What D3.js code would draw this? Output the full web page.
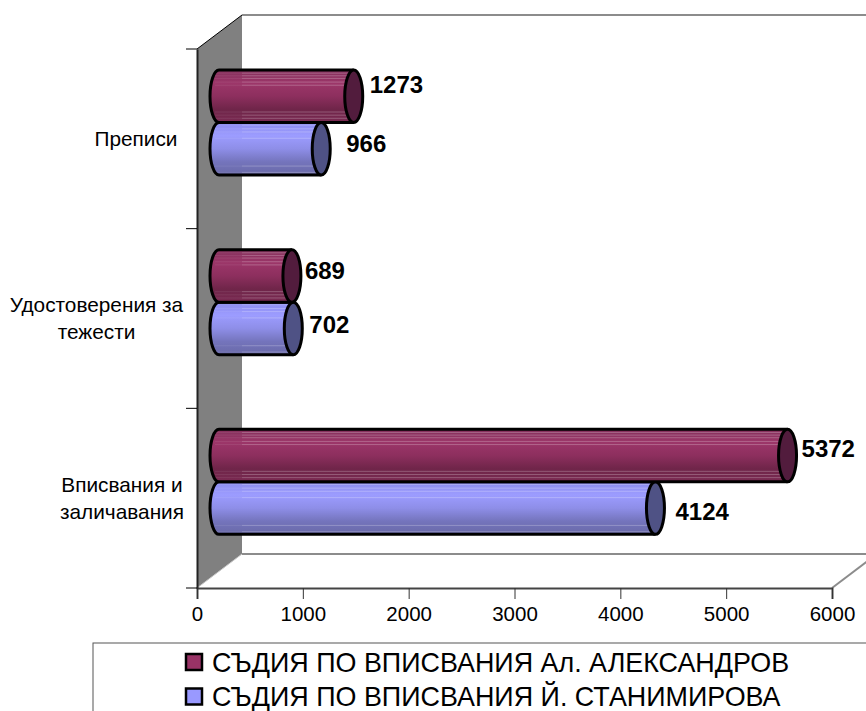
<!DOCTYPE html>
<html>
<head>
<meta charset="utf-8">
<script src="https://cdn.jsdelivr.net/npm/d3@7"></script>
<style>
  html, body { margin: 0; padding: 0; background: #fff; overflow: hidden; }
  text { font-family: "Liberation Sans", Arial, sans-serif; fill: #000; }
</style>
</head>
<body>
<svg id="chart" width="866" height="711"></svg>
<script>
// data
const categories = ["Преписи", "Удостоверения за тежести", "Вписвания и заличавания"];
const categoryLines = [["Преписи"], ["Удостоверения за", "тежести"], ["Вписвания и", "заличавания"]];
const seriesNames = ["СЪДИЯ ПО ВПИСВАНИЯ Ал. АЛЕКСАНДРОВ", "СЪДИЯ ПО ВПИСВАНИЯ Й. СТАНИМИРОВА"];
const aleksandrov = [1273, 689, 5372];
const stanimirova = [966, 702, 4124];
const xTicks = [0, 1000, 2000, 3000, 4000, 5000, 6000];

const svg = d3.select("#chart");
const defs = svg.append("defs");

const x = d3.scaleLinear().domain([0, 6000]).range([197, 832]);
const y = d3.scaleBand().domain(categories).range([49, 588]);
const inner = d3.scaleBand().domain(seriesNames).range([21, 126]);

const depthX = 45, depthY = 34;
const barShift = 22;   // bars sit this far in from the front edge
const rx = 9;

const colors = [
  { base: "#993366", cap: "#521c3d", stops: ["#84305c", "#9c3669", "#8d2f5e", "#6f2549", "#7a2a52"],
    stripes: [0.06, 0.11, 0.16, 0.23, 0.29, 0.8, 0.86, 0.92] },
  { base: "#9999ff", cap: "#4f5285", stops: ["#8c8cee", "#9c9cff", "#8e8ee8", "#7474bc", "#6a6aa8"],
    stripes: [0.05, 0.12, 0.18, 0.3, 0.83, 0.95] }
];

colors.forEach((c, i) => {
  const g = defs.append("linearGradient").attr("id", "grad" + i)
    .attr("x1", 0).attr("y1", 0).attr("x2", 0).attr("y2", 1);
  c.stops.forEach((s, k) => g.append("stop").attr("offset", k / (c.stops.length - 1)).attr("stop-color", s));
});

const yTop0 = y.range()[0], yBottom = y.range()[1];
const x0 = x(0), xEnd = x(6000);

// walls
svg.append("polygon")
  .attr("points", [[x0, yTop0], [x0 + depthX, yTop0 - depthY], [x0 + depthX, yBottom - depthY], [x0, yBottom]].join(" "))
  .attr("fill", "#808080");
svg.append("line").attr("x1", x0).attr("y1", yTop0).attr("x2", x0 + depthX).attr("y2", yTop0 - depthY)
  .attr("stroke", "#000").attr("stroke-width", 1);
svg.append("line").attr("x1", x0 + depthX).attr("y1", yTop0 - depthY).attr("x2", 866).attr("y2", yTop0 - depthY)
  .attr("stroke", "#8c8c8c").attr("stroke-width", 2);
svg.append("line").attr("x1", x0 + depthX).attr("y1", yBottom - depthY).attr("x2", 866).attr("y2", yBottom - depthY)
  .attr("stroke", "#8c8c8c").attr("stroke-width", 2);
svg.append("line").attr("x1", x0).attr("y1", yBottom).attr("x2", x0 + depthX).attr("y2", yBottom - depthY)
  .attr("stroke", "#c8c8c8").attr("stroke-width", 1);
svg.append("line").attr("x1", xEnd).attr("y1", yBottom).attr("x2", xEnd + depthX).attr("y2", yBottom - depthY)
  .attr("stroke", "#8c8c8c").attr("stroke-width", 2);

// bars, drawn lower series first so the upper one sits on top
function drawBar(values, s) {
  const name = seriesNames[s];
  const c = colors[s];
  values.forEach((v, i) => {
    const cat = categories[i];
    const yTop = y(cat) + inner(name);
    const h = inner.bandwidth();
    const yBot = yTop + h;
    const ry = h / 2;
    const xa = x0 + barShift;
    const xb = xa + (x(v) - x0);
    const g = svg.append("g").attr("class", "bar");
    g.append("path")
      .attr("d", `M${xa},${yTop} L${xb},${yTop} L${xb},${yBot} L${xa},${yBot} A${rx},${ry} 0 0 1 ${xa},${yTop} Z`)
      .attr("fill", `url(#grad${s})`);
    // the stripes are fainter where the bar passes in front of the wall
    c.stripes.forEach(f => {
      g.append("line")
        .attr("x1", xa - 4).attr("x2", x0 + depthX)
        .attr("y1", yTop + h * f).attr("y2", yTop + h * f)
        .attr("stroke", "#fff").attr("stroke-opacity", 0.08).attr("stroke-width", 1);
      g.append("line")
        .attr("x1", x0 + depthX).attr("x2", xb - 2)
        .attr("y1", yTop + h * f).attr("y2", yTop + h * f)
        .attr("stroke", "#fff").attr("stroke-opacity", 0.24).attr("stroke-width", 1);
    });
    g.append("path")
      .attr("d", `M${xb},${yTop} L${xa},${yTop} A${rx},${ry} 0 0 0 ${xa},${yBot} L${xb},${yBot}`)
      .attr("fill", "none").attr("stroke", "#000").attr("stroke-width", 3);
    g.append("ellipse")
      .attr("cx", xb).attr("cy", yTop + ry).attr("rx", rx).attr("ry", ry)
      .attr("fill", c.cap).attr("stroke", "#000").attr("stroke-width", 3);
  });
}
drawBar(stanimirova, 1);
drawBar(aleksandrov, 0);

// value labels, each nudged off its bar end
const nudges = [
  [[16, -12], [13, -6], [14, -7]],
  [[25, -5], [16, -4], [20, 3]]
];
[aleksandrov, stanimirova].forEach((values, s) => {
  values.forEach((v, i) => {
    svg.append("text")
      .attr("x", x0 + barShift + (x(v) - x0) + nudges[s][i][0])
      .attr("y", y(categories[i]) + inner(seriesNames[s]) + inner.bandwidth() / 2 + nudges[s][i][1])
      .attr("dy", "0.36em")
      .attr("font-size", 24).attr("font-weight", "bold")
      .text(v);
  });
});

// axes
const xAxis = d3.axisBottom(x).tickValues(xTicks).tickSize(11).tickPadding(7).tickFormat(d3.format("d"));
const gx = svg.append("g").attr("transform", `translate(0,${yBottom})`).call(xAxis);
gx.select(".domain").attr("stroke", "#444").attr("stroke-width", 2);
gx.selectAll(".tick line").attr("stroke", "#333");
gx.selectAll("text").attr("font-size", 20.5).attr("font-family", "Liberation Sans");

const yAxis = d3.axisLeft(y).tickValues([]).tickSizeOuter(0);
const gy = svg.append("g").attr("transform", `translate(${x0},0)`).call(yAxis);
gy.select(".domain").attr("stroke", "#222").attr("stroke-width", 2);
const yTickPos = categories.map(c => y(c)).concat(yBottom);
svg.selectAll(".ytick").data(yTickPos).enter().append("line")
  .attr("class", "ytick")
  .attr("x1", x0 - 11).attr("x2", x0)
  .attr("y1", d => d).attr("y2", d => d)
  .attr("stroke", "#000").attr("stroke-width", 1);

// category labels
const labelCenters = [136, 96.5, 122];
categoryLines.forEach((lines, i) => {
  const cy = y(categories[i]) + y.bandwidth() / 2;
  lines.forEach((t, k) => {
    svg.append("text")
      .attr("x", labelCenters[i])
      .attr("y", cy + (k - (lines.length - 1) / 2) * 27)
      .attr("dy", "0.36em")
      .attr("text-anchor", "middle")
      .attr("font-size", 20.8)
      .text(t);
  });
});

// legend, cut off by the bottom of the picture
svg.append("rect").attr("x", 93).attr("y", 643).attr("width", 800).attr("height", 100)
  .attr("fill", "#fff").attr("stroke", "#555").attr("stroke-width", 1);
seriesNames.forEach((name, i) => {
  const ly = 662 + i * 34.5;
  svg.append("rect").attr("x", 186).attr("y", ly - 8).attr("width", 16).attr("height", 16)
    .attr("fill", colors[i].base).attr("stroke", "#000").attr("stroke-width", 2.5);
  svg.append("text").attr("x", 212).attr("y", ly).attr("dy", "0.36em")
    .attr("font-size", 26.9).text(name);
});
</script>
</body>
</html>
